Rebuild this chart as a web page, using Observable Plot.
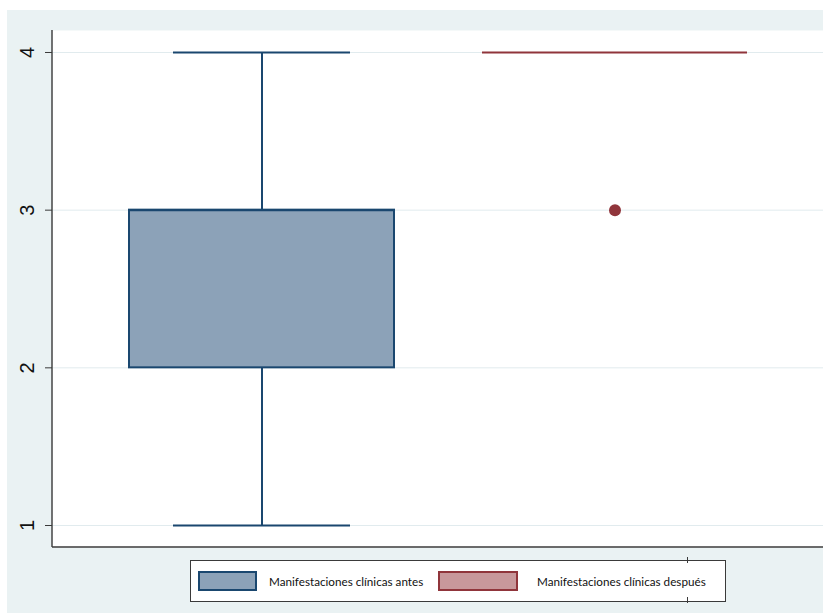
<!DOCTYPE html>
<html>
<head>
<meta charset="utf-8">
<script src="https://cdn.jsdelivr.net/npm/d3@7"></script>
<script src="https://cdn.jsdelivr.net/npm/@observablehq/plot@0.6"></script>
<style>
  html, body { margin: 0; padding: 0; background: #ffffff; }
  #wrap { position: relative; width: 824px; height: 613px; background: #ffffff; overflow: hidden; }
  #panel { position: absolute; left: 7px; top: 10px; width: 816px; height: 603px; background: #eaf2f3; }
  #chart { position: absolute; left: 0; top: 0; }
  #legend { position: absolute; left: 183px; top: 550px; width: 534px; height: 40px;
            background: #ffffff; border: 1px solid #3a3a3a; font-family: Lato, "Open Sans", sans-serif;
            font-size: 11.7px; color: #111; }
  .key { position: absolute; top: 10px; height: 16px; box-sizing: content-box; }
  .lab { position: absolute; top: 12px; line-height: 16px; white-space: nowrap; }
  .nick { position: absolute; width: 1px; height: 6px; background: #3a3a3a; left: 496px; }
</style>
</head>
<body>
<div id="wrap">
  <div id="panel">
    <div id="chart"></div>
    <div id="legend"></div>
  </div>
</div>
<script>
// Clinical manifestations score, before and after
const groups = ["Manifestaciones clínicas antes", "Manifestaciones clínicas después"];
const lowerAdjacent = [1, 4];
const q1 = [2, 4];
const median = [3, 4];
const q3 = [3, 4];
const upperAdjacent = [4, 4];
const outlierGroups = ["Manifestaciones clínicas después"];
const outlierValues = [3];
const yTicks = [1, 2, 3, 4];

const strokeColors = ["#1a476f", "#90353b"];
const fillColors = ["#8ca2b8", "#c8989b"];

const boxes = groups.map((g, i) => ({
  group: g, lo: lowerAdjacent[i], q1: q1[i], med: median[i], q3: q3[i], hi: upperAdjacent[i],
  stroke: strokeColors[i], fill: fillColors[i]
}));
const outliers = outlierGroups.map((g, i) => ({group: g, value: outlierValues[i], stroke: strokeColors[groups.indexOf(g)]}));
const whiskers = boxes.flatMap(b => [
  {group: b.group, y1: b.lo, y2: b.q1, stroke: b.stroke},
  {group: b.group, y1: b.q3, y2: b.hi, stroke: b.stroke}
]).filter(w => w.y2 > w.y1);
const caps = boxes.flatMap(b => [
  {group: b.group, y: b.lo, stroke: b.stroke, show: b.lo < b.q1},
  {group: b.group, y: b.hi, stroke: b.stroke, show: b.hi > b.q3}
]).filter(c => c.show);

// Left and bottom axis lines along the plot area
const axisLines = (index, scales, values, dims) => {
  const g = d3.create("svg:g").attr("stroke", "#3a3a3a").attr("stroke-width", 1.4);
  const x0 = dims.marginLeft, x1 = dims.width - dims.marginRight;
  const y0 = dims.marginTop, y1 = dims.height - dims.marginBottom;
  g.append("line").attr("x1", x0).attr("x2", x0).attr("y1", y0).attr("y2", y1);
  g.append("line").attr("x1", x0).attr("x2", x1).attr("y1", y1).attr("y2", y1);
  return g.node();
};

const chart = Plot.plot({
  width: 816,
  height: 538,
  marginLeft: 45,
  marginTop: 20,
  marginRight: 0,
  marginBottom: 1,
  style: {background: "transparent", fontFamily: "Liberation Sans, Arial, sans-serif"},
  x: {type: "band", domain: groups, paddingInner: 0.25, paddingOuter: 0.2155, axis: null},
  y: {domain: [0.8605, 4.1395], axis: null},
  marks: [
    Plot.frame({fill: "#ffffff", stroke: "none"}),
    Plot.gridY(yTicks, {stroke: "#e1ebee", strokeOpacity: 1, strokeWidth: 1}),
    Plot.ruleX(whiskers, {x: "group", y1: "y1", y2: "y2", stroke: "stroke", strokeWidth: 2}),
    Plot.tickY(caps, {x: "group", y: "y", stroke: "stroke", strokeWidth: 2, inset: 44}),
    Plot.barY(boxes.filter(b => b.q3 > b.q1), {x: "group", y1: "q1", y2: "q3", fill: "fill", stroke: "stroke", strokeWidth: 2}),
    Plot.tickY(boxes, {x: "group", y: "med", stroke: "stroke", strokeWidth: 2}),
    Plot.dot(outliers, {x: "group", y: "value", r: 6, fill: "stroke", stroke: "none"}),
    Plot.axisY(yTicks, {tickSize: 7, tickRotate: -90, tickFormat: "d", fontSize: 20, tickPadding: 12, stroke: "#3a3a3a", fill: "#111"}),
    axisLines
  ]
});
document.getElementById("chart").appendChild(chart);

// Legend below the plot
const legend = d3.select("#legend");
const keyLeft = [7, 247];
const keyWidth = [55, 76];
const labelLeft = [78, 346];
groups.forEach((g, i) => {
  legend.append("div").attr("class", "key")
    .style("left", keyLeft[i] + "px").style("width", keyWidth[i] + "px")
    .style("background", fillColors[i]).style("border", `2px solid ${strokeColors[i]}`);
  legend.append("div").attr("class", "lab").style("left", labelLeft[i] + "px").text(g);
});
legend.append("div").attr("class", "nick").style("top", "-4px");
legend.append("div").attr("class", "nick").style("top", "36px");
</script>
</body>
</html>
